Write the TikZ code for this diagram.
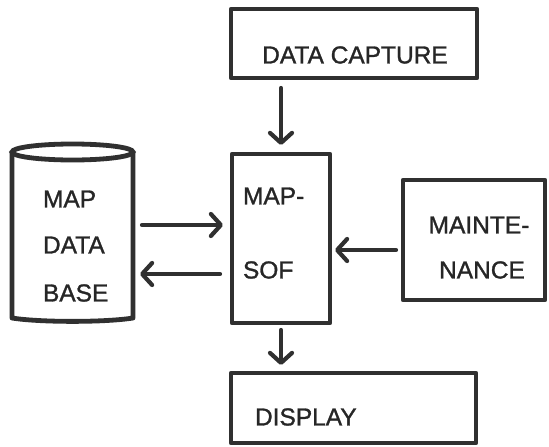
\documentclass[tikz,border=0pt]{standalone}
\usepackage{fontspec}
\setmainfont{Liberation Sans}
\newfontfamily\lblfont{Liberation Sans}[BoldFont=Liberation Sans, BoldFeatures={FakeBold=1.2}]
\usetikzlibrary{arrows.meta}
\definecolor{ink}{HTML}{303030}
\definecolor{txt}{HTML}{262626}
\tikzset{
  box/.style={draw=ink, line width=4.8pt, line join=round, rectangle, inner sep=0pt, outer sep=0pt},
  ghost/.style={rectangle, inner sep=0pt, outer sep=0pt},
  lbl/.style={text=txt, font=\lblfont\fontsize{24.5}{28}\selectfont\bfseries, inner sep=0pt, outer sep=0pt},
  arr/.style={draw=ink, line width=4.2pt, line cap=round,
    -{Straight Barb[length=10pt, width=22pt, line cap=round, line join=round]}},
}
\begin{document}
\begin{tikzpicture}[x=1pt, y=-1pt]
\useasboundingbox[fill=white] (0,0) rectangle (549,447);

% boxes
\node[box, minimum width=246pt, minimum height=69pt] (cap) at (354,43.5) {};
\node[box, minimum width=98pt, minimum height=169pt] (sof) at (281,238.5) {};
\node[box, minimum width=142pt, minimum height=120pt] (mnt) at (474,240) {};
\node[box, minimum width=245pt, minimum height=70pt] (disp) at (353.5,408) {};

% data base drum
\draw[draw=ink, line width=4.8pt, line join=round]
  (12,152) -- (12,318) .. controls (40,322.5) and (105,322.5) .. (133,318) -- (133,152);
\draw[draw=ink, line width=4.8pt] (72.5,152) ellipse [x radius=60.5pt, y radius=8pt];
\node[ghost, minimum width=121pt, minimum height=170pt] (db) at (72.5,237) {};

% labels
\node[lbl] (tcap) at (355,55) {DATA CAPTURE};
\node[lbl, anchor=west] (tsof1) at (243,196) {MAP-};
\node[lbl, anchor=west] (tsof2) at (243,270) {SOF};
\node[lbl] (tmnt1) at (479,225) {MAINTE-};
\node[lbl] (tmnt2) at (482,270) {NANCE};
\node[lbl, anchor=west] (tdisp) at (255,417) {DISPLAY};
\node[lbl, anchor=west] (tdb1) at (43,199) {MAP};
\node[lbl, anchor=west] (tdb2) at (43,245) {DATA};
\node[lbl, anchor=west] (tdb3) at (43,293) {BASE};

% connectors
\draw[arr] ([yshift=-10pt]cap.south -| sof.north) -- ([yshift=9pt]sof.north);
\draw[arr] ([yshift=-7pt]sof.south) -- ([yshift=8pt]disp.north -| sof.south);
\draw[arr] ([xshift=9pt,yshift=12pt]db.east) -- ([xshift=-9pt,yshift=12pt]sof.west |- db.east);
\draw[arr] ([xshift=-12pt,yshift=-37pt]sof.west |- db.east) -- ([xshift=7pt,yshift=-37pt]db.east);
\draw[arr] ([xshift=-7pt,yshift=-10pt]mnt.west) -- ([xshift=5pt,yshift=-10pt]sof.east |- mnt.west);
\end{tikzpicture}
\end{document}
